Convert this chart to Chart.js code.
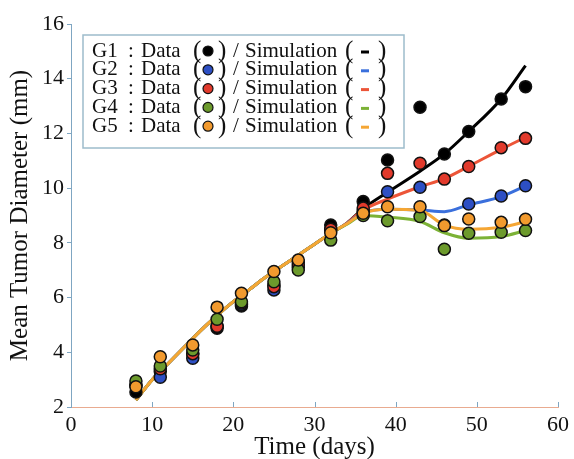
<!DOCTYPE html>
<html lang="en">
<head>
    <meta charset="UTF-8">
    <title>Mean Tumor Diameter</title>
    <script src="https://cdn.jsdelivr.net/npm/chart.js"></script>
    <style>
        body { margin: 0; background: #fff; }
        canvas { display: block; }
    </style>
</head>
<body>
    <canvas id="tumorChart" width="574" height="459"></canvas>

    <script>
        const dataDays = [8, 11, 15, 18, 21, 25, 28, 32, 36, 39, 43, 46, 49, 53, 56];
        const g1Data = [2.55, 3.3, 3.95, 4.88, 5.69, 6.45, 7.3, 8.65, 9.51, 11.03, 12.96, 11.25, 12.07, 13.26, 13.71];
        const g2Data = [2.8, 3.09, 3.78, 4.96, 5.75, 6.28, 7.1, 8.45, 9.15, 9.87, 10.03, 8.65, 9.42, 9.71, 10.09];
        const g3Data = [2.8, 3.4, 3.95, 4.95, 5.8, 6.4, 7.2, 8.5, 9.27, 10.54, 10.91, 10.33, 10.79, 11.48, 11.82];
        const g4Data = [2.95, 3.5, 4.08, 5.21, 5.85, 6.58, 7.01, 8.1, 9.0, 8.81, 8.96, 7.77, 8.35, 8.39, 8.45];
        const g5Data = [2.74, 3.84, 4.27, 5.65, 6.16, 6.95, 7.37, 8.37, 9.08, 9.32, 9.32, 8.63, 8.87, 8.75, 8.86];

        // simulation curves
        const simDays = [8, 10, 12, 14, 16, 18, 20, 22, 24, 26, 28, 30, 32, 34, 36, 39, 43, 46, 49, 53, 56];
        const g1Sim = [2.25, 3.0, 3.6, 4.2, 4.8, 5.35, 5.85, 6.3, 6.75, 7.15, 7.55, 7.95, 8.35, 8.72, 9.25, 9.85, 10.62, 11.25, 12.07, 13.26, 14.48];
        const g2Sim = [2.25, 3.0, 3.6, 4.2, 4.8, 5.35, 5.85, 6.3, 6.75, 7.15, 7.55, 7.95, 8.35, 8.7, 9.1, 9.23, 9.2, 9.14, 9.39, 9.69, 10.08];
        const g3Sim = [2.25, 3.0, 3.6, 4.2, 4.8, 5.35, 5.85, 6.3, 6.75, 7.15, 7.55, 7.95, 8.35, 8.72, 9.2, 9.6, 10.05, 10.35, 10.8, 11.42, 11.86];
        const g4Sim = [2.25, 3.0, 3.6, 4.2, 4.8, 5.35, 5.85, 6.3, 6.75, 7.15, 7.55, 7.95, 8.35, 8.68, 9.0, 8.94, 8.78, 8.37, 8.17, 8.23, 8.45];
        const g5Sim = [2.25, 3.0, 3.6, 4.2, 4.8, 5.35, 5.85, 6.3, 6.75, 7.15, 7.55, 7.95, 8.35, 8.7, 9.08, 9.23, 9.18, 8.65, 8.5, 8.57, 8.77];

        const groupNames = ['G1', 'G2', 'G3', 'G4', 'G5'];
        const dotColors = ['#000000', '#2d4fc4', '#e23a2c', '#6c9a2c', '#f29a2e'];
        const lineColors = ['#000000', '#3a6fdc', '#ec5538', '#7cb236', '#f5a634'];

        const xTicks = [0, 10, 20, 30, 40, 50, 60];
        const serif = 'Liberation Serif';

        function toPoints(xs, ys) {
            return xs.map((x, i) => ({ x: x, y: ys[i] }));
        }

        const allData = [g1Data, g2Data, g3Data, g4Data, g5Data];
        const allSim = [g1Sim, g2Sim, g3Sim, g4Sim, g5Sim];

        const datasets = [];
        // data markers: G5 ends up on top
        allData.forEach((vals, i) => {
            datasets.push({
                label: groupNames[i] + ' data',
                data: toPoints(dataDays, vals),
                showLine: false,
                pointRadius: 6,
                pointBackgroundColor: dotColors[i],
                pointBorderColor: '#111',
                pointBorderWidth: 1.5,
                order: 5 - i
            });
        });
        // simulation lines under the markers
        const lineOrder = [14, 12, 13, 11, 10];
        allSim.forEach((vals, i) => {
            datasets.push({
                label: groupNames[i] + ' simulation',
                data: toPoints(simDays, vals),
                showLine: true,
                borderColor: lineColors[i],
                borderWidth: 3,
                pointRadius: 0,
                cubicInterpolationMode: 'monotone',
                order: lineOrder[i]
            });
        });

        // small inward tick marks on the time axis
        const innerTicks = {
            id: 'innerTicks',
            beforeDatasetsDraw(chart) {
                const ctx = chart.ctx;
                const xs = chart.scales.x;
                const bottom = chart.chartArea.bottom;
                ctx.save();
                ctx.strokeStyle = '#7fa6c2';
                ctx.lineWidth = 1;
                xTicks.forEach(t => {
                    if (t === 0) return;
                    const px = Math.round(xs.getPixelForValue(t)) + 0.5;
                    ctx.beginPath();
                    ctx.moveTo(px, bottom);
                    ctx.lineTo(px, bottom - 5);
                    ctx.stroke();
                });
                ctx.restore();
            }
        };

        // boxed legend in the upper left
        const boxLegend = {
            id: 'boxLegend',
            afterDatasetsDraw(chart) {
                const ctx = chart.ctx;
                ctx.save();
                ctx.fillStyle = '#fff';
                ctx.fillRect(83, 35, 321, 113);
                ctx.strokeStyle = '#9dbccb';
                ctx.lineWidth = 1.5;
                ctx.strokeRect(83, 35, 321, 113);

                ctx.fillStyle = '#111';
                ctx.textBaseline = 'middle';
                for (let i = 0; i < 5; i++) {
                    const y = 51 + i * 18.8;
                    ctx.font = '21px "' + serif + '"';
                    ctx.fillText(groupNames[i], 92, y);
                    ctx.fillText(':', 128, y);
                    ctx.fillText('Data', 141, y);
                    ctx.fillText('/', 233, y);
                    ctx.fillText('Simulation', 245, y);
                    ctx.font = '25px "' + serif + '"';
                    ctx.fillText('(', 193, y);
                    ctx.fillText(')', 218, y);
                    ctx.fillText('(', 345, y);
                    ctx.fillText(')', 378, y);

                    ctx.beginPath();
                    ctx.arc(208, y, 5, 0, Math.PI * 2);
                    ctx.fillStyle = dotColors[i];
                    ctx.fill();
                    ctx.strokeStyle = '#111';
                    ctx.lineWidth = 1.2;
                    ctx.stroke();

                    ctx.strokeStyle = lineColors[i];
                    ctx.lineWidth = 3;
                    ctx.beginPath();
                    ctx.moveTo(361, y + 1);
                    ctx.lineTo(369, y + 1);
                    ctx.stroke();
                    ctx.fillStyle = '#111';
                }
                ctx.restore();
            }
        };

        const ctx = document.getElementById('tumorChart').getContext('2d');
        new Chart(ctx, {
            type: 'scatter',
            data: { datasets: datasets },
            options: {
                responsive: false,
                animation: false,
                layout: { padding: { top: 24, right: 13, left: 0, bottom: 0 } },
                plugins: {
                    legend: { display: false },
                    tooltip: { enabled: false }
                },
                scales: {
                    x: {
                        type: 'linear',
                        min: 0,
                        max: 60,
                        afterFit(scale) { scale.height = 52; },
                        afterBuildTicks(scale) { scale.ticks = xTicks.map(v => ({ value: v })); },
                        border: { display: true, color: '#e9ab90', width: 1 },
                        grid: { display: true, drawOnChartArea: false, drawTicks: false },
                        ticks: {
                            padding: 5,
                            color: '#111',
                            font: { family: serif, size: 22 }
                        },
                        title: {
                            display: true,
                            text: 'Time (days)',
                            color: '#111',
                            font: { family: serif, size: 25 },
                            padding: { top: 0, bottom: -3 }
                        }
                    },
                    y: {
                        min: 2,
                        max: 16,
                        afterFit(scale) { scale.width = 71; },
                        border: { display: true, color: '#7fa6c2', width: 1 },
                        grid: { display: true, drawOnChartArea: false, drawTicks: true, tickLength: 4, color: '#7fa6c2' },
                        ticks: {
                            stepSize: 2,
                            padding: 3,
                            color: '#111',
                            font: { family: serif, size: 22 }
                        },
                        title: {
                            display: true,
                            text: 'Mean Tumor Diameter (mm)',
                            color: '#111',
                            font: { family: serif, size: 25 },
                            padding: { top: 5, bottom: 0 }
                        }
                    }
                }
            },
            plugins: [innerTicks, boxLegend]
        });
    </script>
</body>
</html>
